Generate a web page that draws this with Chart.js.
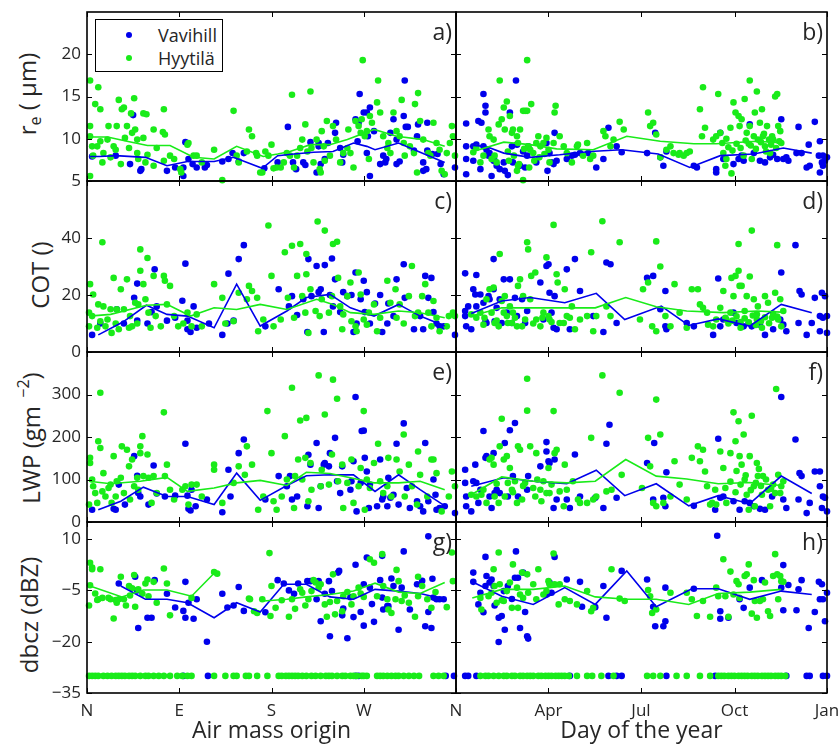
<!DOCTYPE html>
<html><head><meta charset="utf-8">
<script src="https://cdn.jsdelivr.net/npm/chart.js@4.4.1/dist/chart.umd.min.js"></script>
<style>
html,body{margin:0;padding:0;background:#fff;}
#wrap{position:relative;width:839px;height:748px;overflow:hidden;font-family:'Open Sans',sans-serif;color:#262626;background:#fff;}
#wrap canvas{position:absolute;left:0;top:0;}
.ytitle{position:absolute;white-space:nowrap;font-size:24px;line-height:1;transform:translate(-50%,-50%) rotate(-90deg);}
.ytitle sub{font-size:16px;vertical-align:-5px;}
.ytitle sup{font-size:16px;vertical-align:11px;}
.plabel{position:absolute;font-size:23px;line-height:1;text-align:right;}
#legend{position:absolute;left:95px;top:19px;width:126px;height:51px;border:1.5px solid #000;background:#fff;z-index:5;}
#legend .row{position:absolute;left:0;height:20px;font-size:18px;line-height:20px;}
#legend .dot{position:absolute;left:30px;top:7px;width:6px;height:6px;border-radius:50%;}
#legend .txt{position:absolute;left:62px;top:0;white-space:nowrap;}
</style></head><body>
<div id="wrap">
  <div class="ytitle" style="left:29px;top:94px;">r<sub>e</sub> ( μm)</div>
  <div class="ytitle" style="left:40px;top:275px;">COT ()</div>
  <div class="ytitle" style="left:29px;top:438px;">LWP (gm<sup>&nbsp;&nbsp;−2</sup>)</div>
  <div class="ytitle" style="left:29px;top:615px;">dbcz (dBZ)</div>
  <div id="legend">
    <div class="row" style="top:5px;"><span class="dot" style="background:rgb(0,0,235)"></span><span class="txt">Vavihill</span></div>
    <div class="row" style="top:28px;"><span class="dot" style="background:rgb(25,235,25)"></span><span class="txt">Hyytilä</span></div>
  </div>
</div>
<script>
// ---------- axes / ticks ----------
const airTicks = [0, 90, 180, 270, 360];
const airTickLabels = ['N', 'E', 'S', 'W', 'N'];
const dayTicks = [91, 182, 274, 365];
const dayTickLabels = ['Apr', 'Jul', 'Oct', 'Jan'];
const reTicks = [5, 10, 15, 20];
const reRange = [5, 25];
const cotTicks = [0, 20, 40];
const cotRange = [0, 60];
const lwpTicks = [0, 100, 200, 300];
const lwpRange = [0, 400];
const dbzTicks = [-35, -20, -5, 10];
const dbzRange = [-35, 15];
const panelLabels = ['a)', 'b)', 'c)', 'd)', 'e)', 'f)', 'g)', 'h)'];

// ---------- r_e ----------
const reVavAir = [[5,7.9],[28,8.0],[42,7.0],[45,12.8],[52,6.2],[53,6.4],[78,6.2],[86,6.6],[94,6.6],[96,9.6],[94,5.6],[99,7.6],[103,7.0],[107,6.6],[115,6.6],[117,6.9],[132,7.3],[138,7.6],[142,8.3],[148,7.3],[153,8.3],[173,6.5],[186,7.2],[196,11.4],[201,7.2],[204,6.4],[211,7.2],[213,6.9],[218,9.6],[224,6.0],[226,9.1],[226,9.5],[228,7.0],[232,7.6],[235,9.5],[242,10.7],[243,11.9],[247,8.9],[249,7.2],[250,8.1],[262,12.3],[264,9.7],[265,11.9],[266,15.3],[270,13.1],[273,13.1],[276,13.7],[274,10.3],[273,8.3],[276,5.6],[280,10.9],[286,7.0],[289,8.0],[291,7.2],[292,7.6],[296,10.7],[299,12.3],[302,9.9],[302,7.0],[305,7.3],[309,12.7],[310,16.9],[311,11.4],[313,11.4],[319,8.6],[322,10.3],[323,11.7],[328,7.2],[331,6.4],[332,11.9],[328,6.2],[332,8.6],[337,8.2],[342,8.2],[348,5.8],[345,7.0],[359,6.6]];
const reHyyAir = [[3,16.9],[3,10.3],[5,9.1],[3,5.6],[3,11.5],[6,8.0],[8,14.1],[11,16.1],[13,13.5],[10,9.1],[13,9.7],[16,8.3],[15,7.2],[20,9.9],[21,11.5],[23,7.8],[26,9.1],[28,8.7],[29,11.5],[31,14.6],[33,7.0],[34,13.5],[36,13.7],[39,11.5],[37,10.1],[41,8.9],[43,13.0],[46,14.8],[44,10.7],[47,11.1],[49,9.9],[49,8.3],[50,7.6],[55,13.0],[58,12.9],[55,10.1],[59,8.1],[57,7.2],[65,11.1],[68,8.9],[65,6.8],[74,10.8],[75,13.5],[76,10.5],[75,7.4],[81,8.0],[85,7.6],[91,6.4],[92,6.0],[98,9.3],[99,9.5],[104,8.0],[107,8.0],[112,7.2],[124,8.7],[132,5.1],[143,13.3],[146,8.0],[148,7.2],[156,8.5],[158,11.1],[161,10.3],[165,8.3],[166,8.0],[169,6.0],[171,6.0],[174,8.5],[177,8.0],[180,9.3],[182,6.5],[185,6.6],[189,6.6],[192,7.2],[195,8.3],[198,8.0],[200,15.2],[202,6.6],[205,8.0],[208,8.9],[210,9.9],[213,11.7],[218,15.6],[215,8.5],[219,8.9],[221,7.2],[224,9.9],[227,6.4],[228,6.0],[229,10.9],[231,9.1],[232,7.4],[234,12.1],[237,8.0],[240,11.5],[243,9.9],[247,7.2],[250,8.3],[254,8.9],[255,11.1],[257,8.3],[260,6.6],[262,12.1],[265,11.5],[267,10.7],[268,12.3],[269,19.3],[271,10.3],[273,10.9],[275,7.6],[276,12.7],[278,11.9],[283,14.3],[284,16.9],[286,13.1],[289,10.3],[293,8.9],[294,9.5],[296,8.3],[299,13.1],[302,10.9],[305,10.3],[307,14.6],[309,9.5],[310,8.0],[315,9.1],[319,8.3],[320,14.1],[322,6.0],[323,15.4],[325,12.1],[328,9.9],[333,8.3],[335,8.0],[338,11.9],[341,9.5],[344,8.7],[346,6.2],[349,5.8],[351,8.3],[354,9.5],[356,11.5],[357,10.3],[359,8.0]];
const reVavAirMean = [[3,7.9],[12,7.9],[28,8.0],[57,7.8],[78,6.8],[98,7.3],[124,7.3],[143,7.8],[171,6.5],[186,8.0],[202,8.2],[221,8.4],[240,8.5],[260,9.5],[273,9.1],[281,8.7],[304,9.5],[325,8.4],[349,7.2]];
const reHyyAirMean = [[3,10.2],[20,10.2],[39,9.7],[59,9.2],[81,9.2],[104,7.8],[124,7.6],[146,9.1],[172,7.9],[186,8.2],[198,8.5],[218,9.3],[237,9.3],[254,9.9],[280,11.1],[302,10.3],[328,9.9],[349,9.1]];
const reVavDay = [[10,11.8],[10,9.1],[10,7.6],[10,5.8],[17,9.1],[17,7.4],[20,9.3],[24,6.4],[27,15.3],[29,13.9],[29,13.1],[22,12.1],[25,11.9],[27,9.1],[30,8.7],[32,8.0],[33,8.3],[35,5.6],[37,7.4],[38,7.4],[40,6.8],[43,6.4],[47,7.2],[48,6.2],[51,5.7],[53,13.1],[55,9.1],[56,7.2],[59,16.9],[60,9.3],[63,6.8],[66,8.5],[68,6.6],[70,8.0],[71,9.1],[79,7.2],[89,9.5],[90,6.2],[92,8.3],[94,7.2],[96,7.0],[97,10.7],[99,7.4],[109,7.6],[114,8.0],[117,8.1],[122,8.3],[130,8.3],[138,6.6],[145,7.6],[150,11.3],[158,9.1],[163,8.4],[188,8.3],[196,10.7],[201,7.8],[204,6.8],[207,8.5],[234,6.8],[237,6.6],[256,6.4],[256,6.0],[260,10.7],[263,7.6],[273,7.0],[278,7.6],[281,8.0],[283,7.4],[289,11.7],[293,8.3],[299,7.4],[304,7.2],[309,7.8],[312,8.1],[316,7.6],[320,12.3],[322,7.6],[325,7.8],[327,7.4],[335,8.3],[337,11.4],[340,8.3],[345,6.6],[347,9.3],[348,6.8],[353,12.0],[357,8.0],[358,6.0],[358,9.7],[360,7.2],[361,8.0],[361,6.8],[363,7.4],[365,7.8]];
const reHyyDay = [[17,8.4],[20,8.9],[24,7.2],[27,8.0],[32,11.1],[33,10.3],[37,9.9],[38,8.0],[40,7.2],[42,11.7],[43,16.9],[45,12.3],[47,13.7],[48,11.1],[50,14.4],[51,8.5],[53,12.7],[55,10.7],[56,11.1],[60,10.3],[61,9.5],[63,11.1],[66,13.3],[68,13.3],[70,19.3],[70,13.3],[71,9.1],[73,8.7],[74,14.1],[76,8.3],[79,9.5],[81,10.3],[83,9.1],[86,9.5],[89,10.1],[91,8.7],[92,7.2],[96,9.5],[97,13.1],[98,13.9],[102,10.3],[106,9.1],[109,8.3],[114,7.2],[119,9.1],[120,9.3],[125,8.0],[129,9.5],[132,7.6],[135,8.0],[145,10.9],[147,10.3],[152,9.1],[155,9.9],[161,12.0],[165,11.1],[189,13.1],[191,11.5],[194,11.9],[197,10.5],[201,7.8],[207,8.7],[211,9.1],[214,8.3],[219,8.1],[220,8.3],[224,8.0],[227,8.3],[230,8.5],[240,13.5],[242,10.3],[243,16.1],[245,11.3],[253,9.9],[256,10.3],[258,15.3],[260,10.7],[263,8.3],[265,6.8],[266,7.6],[270,11.3],[271,5.9],[273,14.3],[275,13.1],[278,12.7],[279,11.5],[281,12.3],[283,8.0],[284,14.7],[286,10.7],[288,9.4],[289,16.9],[289,11.5],[291,7.6],[293,10.3],[294,13.1],[296,15.6],[297,9.9],[299,11.9],[301,13.5],[302,10.3],[304,9.1],[306,11.5],[309,8.3],[311,10.3],[312,9.9],[314,15.0],[316,15.3],[317,11.5],[319,10.9],[320,9.5],[268,9.0],[272,8.6],[276,9.4],[280,8.9],[285,9.8],[290,9.2],[295,8.8],[300,9.6],[305,8.5],[310,9.3],[315,8.9],[318,9.7],[262,9.5],[266,10.0],[303,10.6],[308,9.9],[35,7.6],[52,7.4],[57,8.0],[62,7.0],[67,8.8],[72,6.6],[77,7.4],[82,7.8],[87,8.2],[66,5.1],[60,6.2],[61,6.8]];
const reVavDayMean = [[17,9.2],[29,9.1],[47,8.3],[73,7.8],[102,8.1],[132,8.5],[163,8.7],[199,8.2],[230,6.6],[260,8.0],[293,8.2],[322,8.9],[350,8.3]];
const reHyyDayMean = [[17,8.5],[47,9.6],[73,9.3],[99,8.8],[135,8.7],[168,10.3],[201,9.7],[234,9.4],[256,9.4],[296,9.7],[322,9.5]];

// ---------- COT ----------
const cotVavAir = [[5,6],[13,10],[29,15],[36,10],[46,19],[49,24],[49,11],[59,10],[63,14],[66,29],[68,16],[78,11],[86,12],[93,18],[96,31],[98,11],[98,8],[101,7],[104,16],[107,8.5],[119,10],[132,6],[137,10],[138,27.5],[143,11],[148,32.6],[153,37.5],[174,9],[187,22],[197,16],[200,19.6],[205,13],[211,18.5],[215,7],[216,32.6],[219,19.6],[224,30.2],[226,21],[228,22],[231,7],[232,30.5],[237,20],[239,32.8],[240,16],[242,25.5],[247,14],[250,21],[254,19.6],[258,20],[260,7],[262,27.9],[263,10],[267,18.5],[270,25],[271,14],[273,21],[276,10],[281,17],[286,20],[288,7],[293,10],[294,17],[299,12.6],[302,25.5],[309,30.8],[310,19],[319,8],[325,12.6],[328,8],[330,26.7],[333,19],[336,26],[338,14],[341,10],[344,9],[348,9],[359,6]];
const cotHyyAir = [[2,9],[3,23.8],[2,13.8],[5,12.6],[6,20.2],[10,8.5],[11,16.7],[13,10.8],[15,38.5],[16,16],[18,9],[20,11.4],[23,15],[24,6.7],[26,26],[28,10],[29,15],[31,8],[33,22],[36,15],[39,25.5],[41,8.5],[42,12.6],[44,9],[47,17.3],[49,10],[50,16.7],[52,28.5],[52,36],[55,23.8],[57,18.5],[59,33],[60,13.8],[62,8.5],[65,26.7],[67,12.6],[72,9],[75,26.7],[76,25],[78,16.7],[81,23.2],[85,12.6],[89,9],[94,10],[98,13.8],[102,9],[107,13.2],[112,9],[124,23.8],[132,19],[135,10],[143,10.8],[148,20.8],[156,18.5],[158,23.2],[161,21.4],[166,19],[167,7.3],[172,11.4],[177,44.4],[180,26.7],[182,9],[189,11.4],[193,35],[196,19],[200,37.3],[202,12],[205,26.7],[208,37.9],[210,19.6],[213,13.8],[214,34.4],[214,27.3],[216,6.7],[218,22],[223,14.4],[225,45.8],[227,12.6],[229,18.5],[232,42.6],[236,13.8],[239,19.6],[240,37.9],[244,38.7],[245,26],[247,16],[249,8],[250,13.2],[254,19.6],[257,24.4],[258,10.8],[262,9],[263,7.3],[265,27.9],[267,20.2],[270,11.4],[273,9.6],[275,13.8],[280,16.7],[283,7.3],[286,12],[293,25],[296,17.3],[301,22],[302,12],[305,16.7],[309,10],[314,19.6],[317,30.2],[320,12.6],[323,13.8],[327,19.6],[330,23.8],[333,13.8],[336,9],[338,17.9],[341,12],[344,7.3],[351,9],[353,12.6],[357,13.8],[359,12.6]];
const cotVavAirMean = [[11,6],[35,10.5],[58,16.4],[78,13.2],[98,12.6],[124,8.5],[146,23.8],[169,9.1],[195,14.4],[214,19.1],[237,20.2],[257,15.5],[280,12.6],[304,16.7],[325,12.6],[349,9.1]];
const cotHyyAirMean = [[2,12.6],[23,13.2],[58,16.4],[78,16.7],[101,12.6],[124,15.5],[146,14.9],[169,16.7],[195,14.9],[224,18.5],[240,16.7],[257,13.8],[280,13.2],[304,14.4],[325,13.8],[349,12]];
const cotVavDay = [[9,27.6],[9,14.4],[9,12.6],[10,9],[12,16],[15,8],[17,22],[19,20.2],[20,27],[20,16],[24,20.2],[27,17.3],[29,10.8],[30,10.2],[32,19.6],[33,18.5],[37,32.6],[37,22],[38,10.8],[40,15.5],[43,18.5],[45,10.2],[47,25.5],[50,13.8],[53,25.5],[55,10.2],[58,19],[60,12.6],[65,18.5],[68,10.2],[70,14.4],[83,24.4],[86,11.4],[89,30.2],[91,30.8],[92,20.8],[94,13.8],[96,8.5],[97,19.6],[99,8],[109,29],[112,8],[117,32.6],[122,21.4],[135,12.6],[145,7],[148,31.4],[152,30.8],[158,10.2],[188,26],[194,26.7],[201,15],[206,21.4],[206,9],[207,8],[227,10.2],[234,9],[253,6],[258,25.8],[260,9],[263,11.4],[273,13.8],[276,10.2],[283,9],[288,10.2],[291,9],[299,9.6],[304,6],[312,8],[319,11.4],[320,27.9],[322,9.6],[325,7.3],[334,37.5],[337,10.2],[338,21.4],[340,20.2],[345,6],[350,10.2],[353,19],[358,12.6],[358,7.3],[360,20.8],[361,12],[363,19.6],[365,6.7],[365,12.6]];
const cotHyyDay = [[15,13.2],[20,12],[24,13.8],[27,9.6],[30,18.5],[33,22],[35,13.8],[37,22.6],[38,10.2],[42,9],[43,34.4],[45,17.9],[47,13.8],[48,19.6],[50,12.6],[51,10.2],[53,16],[55,10.2],[56,13.8],[60,9],[61,23.2],[63,25.5],[65,9],[66,19.6],[68,11.4],[70,38.5],[71,36],[73,18.5],[74,26.7],[78,27.9],[79,11.4],[83,9],[86,13.8],[89,33.2],[91,12.6],[92,11.4],[96,44.6],[99,27.3],[100,24.4],[102,10.2],[106,10.2],[107,22],[109,12.6],[112,12],[114,16],[117,8],[122,11.4],[129,12.6],[133,35],[135,7.3],[138,12.6],[144,45.9],[148,16],[152,12.6],[161,38.5],[181,11.4],[184,22],[189,24.4],[193,9],[197,38.8],[197,7.3],[201,30],[206,12.6],[211,9],[215,23.8],[220,13.8],[227,8.5],[232,22],[238,22],[240,16.7],[243,15.5],[247,13.8],[248,9.6],[253,9],[256,11.4],[260,15.5],[263,21.4],[266,11.4],[270,13.8],[271,26],[273,19.6],[275,26.7],[278,37.9],[278,28.5],[279,23.2],[281,23.2],[284,14.4],[286,19.6],[289,26.5],[291,42.6],[293,18.5],[296,11.4],[297,16],[301,8.5],[304,19.6],[307,17.3],[311,12],[314,20.8],[316,37.5],[317,11.4],[319,18.5],[320,9],[322,14.4],[265,12],[268,10],[272,11],[276,12.5],[280,10.5],[284,11.8],[288,10.4],[292,12.8],[296,13.2],[300,10.8],[304,12.2],[308,10.1],[312,13.5],[316,12.4],[280,8.5],[295,9.5],[28,12],[40,11],[58,12],[76,10],[85,12],[94,10.5]];
const cotVavDayMean = [[15,13.5],[45,17.9],[73,19.1],[107,17.3],[138,20.6],[166,11.4],[202,16.1],[229,9.3],[258,11.6],[289,9.1],[320,16.7],[350,13.8]];
const cotHyyDayMean = [[15,12.6],[45,15.5],[83,15.5],[137,15.5],[167,19.1],[197,15.9],[227,14.4],[263,13.8],[296,14.4],[320,14]];

// ---------- LWP ----------
const lwpVavAir = [[5,29],[26,31],[28,29],[31,88],[37,41],[46,155],[49,109],[50,68],[52,60],[60,41],[65,133],[68,67],[76,60],[86,62],[96,184],[98,62],[99,31],[101,27],[102,76],[106,37],[117,53],[132,23],[140,60],[138,123],[148,162],[153,194],[174,53],[187,108],[195,84],[198,108],[200,53],[205,60],[215,37],[216,158],[218,135],[224,186],[226,33],[228,84],[231,135],[232,139],[236,131],[237,162],[242,198],[244,96],[247,68],[249,131],[257,76],[258,96],[260,143],[262,294],[263,25],[267,92],[268,214],[270,215],[271,151],[273,119],[275,33],[276,88],[283,37],[286,147],[288,53],[289,60],[293,37],[294,104],[296,57],[299,64],[302,184],[304,41],[309,232],[312,80],[315,33],[322,49],[325,37],[328,25],[330,186],[333,49],[338,100],[340,64],[341,29],[344,33],[349,37],[359,21]];
const lwpHyyAir = [[2,41],[3,151],[3,139],[5,100],[6,84],[8,68],[10,45],[11,190],[13,304],[15,72],[13,174],[16,115],[18,60],[21,80],[23,88],[24,45],[26,155],[28,60],[29,96],[33,104],[34,178],[36,68],[39,170],[41,131],[42,53],[44,147],[46,84],[49,104],[50,76],[52,178],[52,162],[54,202],[55,108],[59,159],[60,104],[63,45],[65,108],[68,68],[75,258],[76,108],[78,135],[81,76],[85,53],[93,76],[96,84],[99,41],[102,88],[107,88],[112,60],[124,123],[124,135],[132,45],[143,92],[148,131],[154,111],[156,178],[161,135],[167,29],[172,60],[176,261],[180,162],[182,49],[185,29],[190,60],[193,202],[195,100],[200,316],[202,33],[203,108],[206,147],[208,239],[210,100],[213,151],[214,245],[216,49],[218,139],[219,76],[226,345],[228,84],[229,123],[232,253],[236,88],[239,159],[240,335],[244,290],[245,96],[249,135],[250,33],[254,92],[258,147],[260,45],[265,84],[267,127],[270,261],[271,29],[273,100],[276,80],[280,139],[284,184],[286,96],[289,68],[293,84],[294,151],[297,60],[302,147],[305,119],[309,206],[310,60],[314,135],[317,84],[322,41],[323,166],[325,111],[332,60],[336,147],[338,147],[341,115],[346,25],[353,60],[356,119],[359,84]];
const lwpVavAirMean = [[11,29],[33,49],[55,82],[78,60],[98,60],[124,41],[146,115],[169,51],[195,86],[214,109],[237,111],[260,111],[281,72],[304,111],[325,76],[349,38]];
const lwpHyyAirMean = [[2,96],[23,90],[52,96],[78,105],[98,72],[124,80],[146,92],[169,98],[195,86],[214,117],[237,114],[257,104],[280,92],[304,92],[325,96],[349,76]];
const lwpVavDay = [[9,123],[9,92],[10,60],[10,37],[15,25],[17,96],[19,135],[20,92],[22,45],[24,76],[27,214],[29,151],[30,155],[33,60],[35,33],[37,162],[38,68],[40,76],[43,68],[48,186],[51,60],[53,216],[56,108],[58,233],[61,60],[70,76],[71,108],[83,131],[89,188],[89,166],[91,143],[92,139],[97,147],[96,33],[99,53],[109,53],[112,33],[117,159],[122,60],[137,57],[145,33],[148,184],[151,229],[158,57],[188,139],[194,53],[195,186],[204,57],[207,117],[206,37],[234,38],[255,29],[258,196],[260,57],[263,60],[273,49],[279,29],[284,49],[289,45],[293,37],[299,31],[304,29],[311,60],[320,294],[322,53],[325,33],[334,194],[337,53],[338,115],[340,108],[345,21],[348,45],[353,119],[358,119],[358,84],[360,33],[361,60],[363,57],[365,25]];
const lwpHyyDay = [[15,64],[20,60],[25,64],[27,76],[30,45],[33,147],[35,151],[37,135],[38,60],[42,45],[43,178],[45,243],[47,147],[48,60],[50,155],[51,92],[53,127],[55,76],[58,96],[60,45],[61,178],[63,170],[65,53],[68,92],[70,337],[70,262],[73,178],[76,80],[78,60],[79,162],[83,76],[84,49],[86,96],[89,68],[91,127],[92,68],[96,261],[97,162],[99,170],[102,72],[106,37],[107,135],[109,76],[115,96],[120,53],[122,45],[129,45],[133,198],[135,53],[138,60],[144,345],[148,72],[153,76],[161,304],[163,111],[183,80],[189,198],[191,131],[194,45],[197,288],[197,37],[201,206],[204,45],[211,60],[215,143],[220,88],[227,53],[232,151],[238,178],[240,143],[243,170],[245,119],[247,84],[250,41],[252,45],[255,76],[256,41],[260,166],[263,127],[266,45],[270,162],[273,258],[275,190],[278,237],[279,155],[281,135],[283,206],[284,100],[286,64],[288,29],[289,155],[291,250],[293,84],[294,37],[296,139],[297,108],[301,64],[302,108],[307,76],[309,37],[312,88],[314,68],[315,313],[317,111],[319,68],[320,84],[322,96],[265,80],[270,95],[275,70],[280,88],[285,110],[290,75],[295,92],[300,85],[305,100],[310,78],[276,120],[298,125],[40,90],[56,70],[66,85],[80,100],[94,88]];
const lwpVavDayMean = [[15,84],[47,104],[76,96],[109,90],[138,122],[166,62],[197,90],[229,38],[258,62],[289,43],[320,108],[350,67]];
const lwpHyyDayMean = [[15,64],[45,106],[76,96],[109,92],[137,96],[167,147],[197,108],[227,101],[258,90],[289,93],[320,86]];

// ---------- dbcz ----------
const dbzVavAir = [[31,-3],[47,-1],[49,-5],[50,-16],[59,-13],[63,-13],[66,-2],[78,-6],[86,-10],[94,-11],[96,-2.5],[96,-13],[99,-8.6],[104,-13.3],[107,-7.6],[117,-20],[132,-6],[137,-10],[143,-9.4],[148,-4],[153,-11],[174,-11.4],[186,-2],[192,-3],[197,-5],[202,-6],[206,-3],[215,-2.3],[218,-2.3],[224,-7.6],[226,-2.3],[228,-14],[232,-6],[236,-2.3],[237,-18.4],[239,-5.2],[245,0.2],[246,0.7],[249,-12.3],[250,-10.3],[254,-19],[257,-7],[260,-12.8],[262,2.5],[267,-11.3],[270,-3.2],[270,-15.3],[273,4.6],[276,-4.2],[278,-9],[280,-14.2],[286,-2],[288,5.1],[288,-7.1],[289,-10.6],[293,-9.6],[294,-9.6],[297,-1.5],[299,-3.7],[304,-16.5],[307,-4.2],[309,6.4],[315,-10.6],[322,-3.2],[327,-2.2],[330,-15.5],[333,10.8],[333,-11.3],[336,-16],[337,-1.6],[338,-7.1],[341,-7.6],[344,-7.6],[348,-7.6],[94,-30],[118,-30],[262,-30],[265,-30],[350,-30],[358,-30]];
const dbzHyyAir = [[2,-9.4],[3,3.1],[5,1.7],[5,1.2],[3,-3.5],[8,-5.9],[10,-7.8],[11,-7.6],[13,1.2],[15,-7.2],[21,-7.2],[23,-7.6],[26,-13.2],[28,-7.8],[29,-8.6],[31,-7.6],[33,-1],[36,-7.6],[38,-9.4],[41,-3.7],[42,-6.5],[44,-4.4],[46,-0.5],[47,-9.8],[50,-4.7],[54,-6],[57,-3],[59,-1.8],[60,-6.7],[65,-2.5],[68,-8.6],[75,1.4],[78,-3],[81,-12.3],[102,-7.2],[124,0.4],[127,-0.1],[158,-7.4],[159,-7.6],[163,-11.1],[166,-11.6],[171,-7.6],[178,5.9],[179,-12.5],[180,-3.7],[184,-10.1],[190,-7.9],[197,-12.7],[200,-7.6],[203,-10.4],[208,-4.7],[210,-5.7],[213,-9.4],[216,-7.6],[219,-5.2],[221,-2],[223,-2.7],[226,-4.2],[228,-3.2],[232,-9.1],[234,-12.7],[237,-8.4],[240,-0.3],[242,-12],[244,-8.1],[249,-11.1],[250,-6.7],[254,-5.5],[258,-9.1],[260,-6.7],[265,-4.2],[267,-5.9],[270,-6.9],[276,4.1],[280,3.1],[283,-6.7],[288,5.6],[289,-3.7],[293,-7.6],[294,-10.6],[297,-11.6],[301,-7.6],[302,1],[304,-2.3],[307,-8.1],[310,-6.5],[314,-8.6],[320,-12.7],[323,-1],[323,-6.7],[327,-3.7],[332,-7.6],[336,-10.1],[340,-5.5],[351,-9.9],[356,6.1],[357,-2.3],
  [2,-30],[5,-30],[8,-30],[11,-30],[16,-30],[20,-30],[24,-30],[28,-30],[31,-30],[34,-30],[37,-30],[41,-30],[44,-30],[47,-30],[52,-30],[57,-30],[60,-30],[65,-30],[70,-30],[75,-30],[81,-30],[88,-30],[93,-30],[98,-30],[102,-30],[124,-30],[135,-30],[143,-30],[146,-30],[155,-30],[158,-30],[166,-30],[176,-30],[187,-30],[190,-30],[194,-30],[197,-30],[200,-30],[203,-30],[206,-30],[210,-30],[214,-30],[219,-30],[223,-30],[228,-30],[233,-30],[236,-30],[239,-30],[244,-30],[249,-30],[252,-30],[257,-30],[260,-30],[263,-30],[268,-30],[270,-30],[273,-30],[283,-30],[286,-30],[289,-30],[293,-30],[297,-30],[301,-30],[304,-30],[309,-30],[314,-30],[319,-30],[324,-30],[338,-30],[343,-30],[348,-30]];
const dbzVavAirMean = [[33,-3.7],[57,-7.6],[78,-7.6],[98,-8.6],[124,-13],[146,-8.6],[169,-11.3],[192,-3.2],[214,-3.2],[237,-6.9],[260,-7.6],[281,-4.7],[304,-5.2],[325,-5.9],[349,-7.6]];
const dbzHyyAirMean = [[3,-3.7],[34,-6.9],[55,-4.9],[78,-4.9],[102,-6.7],[124,0],[150,null],[172,-8.1],[195,-7.6],[214,-6.9],[237,-6.2],[260,-5.2],[281,-2.9],[304,-5.5],[325,-5.9],[349,-2.7]];
const dbzVavDay = [[17,-2.5],[17,0.2],[22,-9.1],[24,-5.7],[27,-11.4],[29,4.8],[29,-3.7],[30,-0.8],[33,-2.7],[35,-1.8],[37,-3.7],[38,-9.4],[42,-20.1],[42,-13],[45,-12.5],[47,-5.2],[48,-16.5],[51,-3.7],[55,-7.5],[58,-1.3],[59,6.4],[61,-1.3],[63,-16],[66,0.2],[68,-11.3],[70,-18.4],[71,-19.1],[89,-6.2],[92,-2.7],[94,-5.7],[97,4.8],[109,-1.8],[122,-2.5],[124,-9.8],[137,-9.9],[145,-3.7],[148,-13],[163,0.7],[188,-1.8],[194,-9.8],[196,-15.5],[204,-15.5],[206,-4.2],[206,-14],[234,-4.5],[257,11],[260,-13.3],[260,-11.1],[268,-13],[279,-7.6],[283,-10.1],[289,-4.2],[301,-2],[320,-4.2],[322,-10.8],[322,2.4],[327,-3.4],[335,-10.8],[337,-4.7],[340,-2],[347,-16],[353,-11.3],[357,-2.5],[358,-7.6],[360,-3.2],[361,-7.6],[363,-14],[365,-5.7],
  [9,-30],[12,-30],[20,-30],[112,-30],[150,-30],[158,-30],[163,-30],[207,-30],[255,-30],[325,-30],[345,-30],[348,-30],[361,-30],[365,-30]];
const dbzHyyDay = [[24,-7.2],[25,-10.6],[32,-6.7],[35,-5.7],[37,1.2],[38,-3.7],[40,-8.6],[42,6.1],[43,-3.2],[45,-7.9],[47,-8.1],[50,-5.2],[53,-2.7],[55,-10.1],[56,2.6],[60,-4.2],[61,-10.1],[63,-6.2],[65,0.2],[66,-7.2],[70,-0.3],[71,-5.7],[76,-3.2],[79,-7.6],[81,1.2],[86,-6.2],[89,-5.2],[91,-2.3],[92,-3.2],[96,5.8],[97,-3.2],[101,-9.1],[102,-3.2],[107,-7.6],[112,-8.1],[119,-9.1],[129,-5.2],[133,-11.1],[135,-10.1],[153,1.2],[161,-7.4],[166,-8.1],[189,-4.9],[191,-6.7],[193,-11.6],[197,-10.6],[211,-5.7],[227,-5.7],[232,-7.6],[237,-12.5],[243,-8.1],[250,-12.7],[256,-4.2],[258,-6.7],[263,4.1],[265,-6.7],[268,-12.7],[270,0.5],[273,-6.2],[276,-2.3],[278,-3.2],[279,-7.2],[284,-0.8],[286,-0.3],[288,2.6],[291,-11.8],[293,-2],[294,-8.1],[296,-13],[299,-8.1],[302,-7.6],[304,-2.7],[307,-11.1],[309,-12.5],[312,-0.8],[314,5.6],[316,-0.3],[317,-7.6],[319,-0.8],[320,-2.3],[322,-2.5],
  [24,-30],[29,-30],[32,-30],[37,-30],[42,-30],[47,-30],[50,-30],[55,-30],[58,-30],[63,-30],[66,-30],[70,-30],[73,-30],[76,-30],[81,-30],[84,-30],[88,-30],[91,-30],[94,-30],[98,-30],[101,-30],[104,-30],[107,-30],[111,-30],[119,-30],[129,-30],[134,-30],[143,-30],[155,-30],[188,-30],[194,-30],[201,-30],[217,-30],[227,-30],[240,-30],[250,-30],[258,-30],[261,-30],[264,-30],[268,-30],[271,-30],[274,-30],[278,-30],[281,-30],[284,-30],[287,-30],[291,-30],[294,-30],[297,-30],[301,-30],[304,-30],[307,-30],[310,-30],[314,-30],[317,-30],[320,-30],[324,-30]];
const dbzVavDayMean = [[15,-2.3],[45,-6.7],[76,-9.1],[107,-4.2],[137,-9.1],[168,0.7],[197,-9.8],[232,-4.5],[258,-4.5],[289,-7.6],[320,-5.2],[350,-6.2]];
const dbzHyyDayMean = [[16,-7.2],[45,-4.7],[76,-4.7],[107,-3.7],[137,-6.9],[168,-7.6],[197,-7.6],[229,-9.1],[258,-5.9],[289,-5.5],[320,-4.7]];

// ---------- drawing ----------
const W = 839, H = 748;
const BLUE = 'rgb(0,0,235)', GREEN = 'rgb(25,235,25)';
const TXT = '#262626';
const FONT = "'Open Sans', sans-serif";
const X_AXIS_H = 55;
const fmt = v => (v < 0 ? '\u2212' + Math.abs(v) : String(v));

const framePlugin = {
  id: 'frame',
  afterDatasetsDraw(chart, args, opts) {
    const {ctx, chartArea: a, scales: {x, y}} = chart;
    ctx.save();
    ctx.strokeStyle = '#000';
    ctx.lineWidth = 1;
    const L = 5;
    ctx.beginPath();
    opts.xTicks.forEach(v => {
      const px = Math.round(x.getPixelForValue(v)) + 0.5;
      ctx.moveTo(px, a.bottom); ctx.lineTo(px, a.bottom - L);
      ctx.moveTo(px, a.top); ctx.lineTo(px, a.top + L);
    });
    opts.yTicks.forEach(v => {
      const py = Math.round(y.getPixelForValue(v)) + 0.5;
      ctx.moveTo(a.left, py); ctx.lineTo(a.left + L, py);
      ctx.moveTo(a.right, py); ctx.lineTo(a.right - L, py);
    });
    ctx.stroke();
    ctx.lineWidth = 1.6;
    ctx.strokeRect(a.left, a.top, a.right - a.left, a.bottom - a.top);
    ctx.restore();
  }
};

function panel(o) {
  const cv = document.createElement('canvas');
  cv.width = W; cv.height = H;
  cv.style.width = W + 'px'; cv.style.height = H + 'px';
  document.getElementById('wrap').insertBefore(cv, document.getElementById('legend'));
  const showY = o.left < 200;
  new Chart(cv, {
    type: 'scatter',
    data: {datasets: [
      {data: o.vav, backgroundColor: BLUE, borderWidth: 0, pointRadius: 3.3, order: 4, clip: false},
      {data: o.hyy, backgroundColor: GREEN, borderWidth: 0, pointRadius: 3.3, order: 3, clip: false},
      {data: o.vavMean, showLine: true, borderColor: BLUE, borderWidth: 1.6, pointRadius: 0, spanGaps: false, order: 2},
      {data: o.hyyMean, showLine: true, borderColor: GREEN, borderWidth: 1.6, pointRadius: 0, spanGaps: false, order: 1}
    ]},
    options: {
      responsive: false, animation: false, events: [], devicePixelRatio: 1,
      layout: {padding: {
        left: showY ? 0 : o.left, top: o.top, right: W - o.right,
        bottom: o.xTitle ? H - o.bottom - X_AXIS_H : H - o.bottom}},
      plugins: {legend: {display: false}, tooltip: {enabled: false},
        frame: {xTicks: o.xTicks, yTicks: o.yTicks}},
      scales: {
        x: {type: 'linear', position: 'bottom', min: o.xRange[0], max: o.xRange[1],
          display: !!o.xTitle,
          grid: {display: false, drawTicks: false}, border: {display: false},
          afterBuildTicks: s => { s.ticks = o.xTicks.map(v => ({value: v})); },
          afterFit: s => { if (o.xTitle) { s.height = X_AXIS_H; } s.paddingLeft = 0; s.paddingRight = 0; },
          ticks: {autoSkip: false, maxRotation: 0, padding: 8, color: TXT,
            font: {family: FONT, size: 17},
            callback: v => o.xLabels[o.xTicks.indexOf(v)]},
          title: {display: !!o.xTitle, text: o.xTitle || '', color: TXT,
            font: {family: FONT, size: 23}, padding: {top: 0, bottom: 3}}
        },
        y: {type: 'linear', position: 'left', min: o.yRange[0], max: o.yRange[1],
          display: showY,
          grid: {display: false, drawTicks: false}, border: {display: false},
          afterBuildTicks: s => { s.ticks = o.yTicks.map(v => ({value: v})); },
          afterFit: s => { if (showY) { s.width = o.left; } s.paddingTop = 0; s.paddingBottom = 0; },
          ticks: {autoSkip: false, padding: 6, color: TXT, font: {family: FONT, size: 17},
            callback: v => fmt(v)}
        }
      }
    },
    plugins: [framePlugin]
  });
}

const LX = [87, 456], RX = [456, 827];
const ROWS = [[12, 181], [181, 352], [352, 522], [522, 693]];
const vars = [
  {ticks: reTicks, range: reRange, air: [reVavAir, reHyyAir, reVavAirMean, reHyyAirMean], day: [reVavDay, reHyyDay, reVavDayMean, reHyyDayMean]},
  {ticks: cotTicks, range: cotRange, air: [cotVavAir, cotHyyAir, cotVavAirMean, cotHyyAirMean], day: [cotVavDay, cotHyyDay, cotVavDayMean, cotHyyDayMean]},
  {ticks: lwpTicks, range: lwpRange, air: [lwpVavAir, lwpHyyAir, lwpVavAirMean, lwpHyyAirMean], day: [lwpVavDay, lwpHyyDay, lwpVavDayMean, lwpHyyDayMean]},
  {ticks: dbzTicks, range: dbzRange, air: [dbzVavAir, dbzHyyAir, dbzVavAirMean, dbzHyyAirMean], day: [dbzVavDay, dbzHyyDay, dbzVavDayMean, dbzHyyDayMean]}
];

vars.forEach((vr, r) => {
  const last = r === vars.length - 1;
  panel({left: LX[0], right: LX[1], top: ROWS[r][0], bottom: ROWS[r][1],
    xRange: [0, 360], xTicks: airTicks, xLabels: airTickLabels,
    xTitle: last ? 'Air mass origin' : null,
    yRange: vr.range, yTicks: vr.ticks,
    vav: vr.air[0], hyy: vr.air[1], vavMean: vr.air[2], hyyMean: vr.air[3]});
  panel({left: RX[0], right: RX[1], top: ROWS[r][0], bottom: ROWS[r][1],
    xRange: [0, 365], xTicks: dayTicks, xLabels: dayTickLabels,
    xTitle: last ? 'Day of the year' : null,
    yRange: vr.range, yTicks: vr.ticks,
    vav: vr.day[0], hyy: vr.day[1], vavMean: vr.day[2], hyyMean: vr.day[3]});
  [[LX, 0], [RX, 1]].forEach(([cols, c]) => {
    const s = document.createElement('div');
    s.className = 'plabel';
    s.textContent = panelLabels[r * 2 + c];
    s.style.right = (W - cols[1] + 4) + 'px';
    s.style.top = (ROWS[r][0] + 8) + 'px';
    s.style.zIndex = 4;
    document.getElementById('wrap').appendChild(s);
  });
});
</script>
</body></html>
